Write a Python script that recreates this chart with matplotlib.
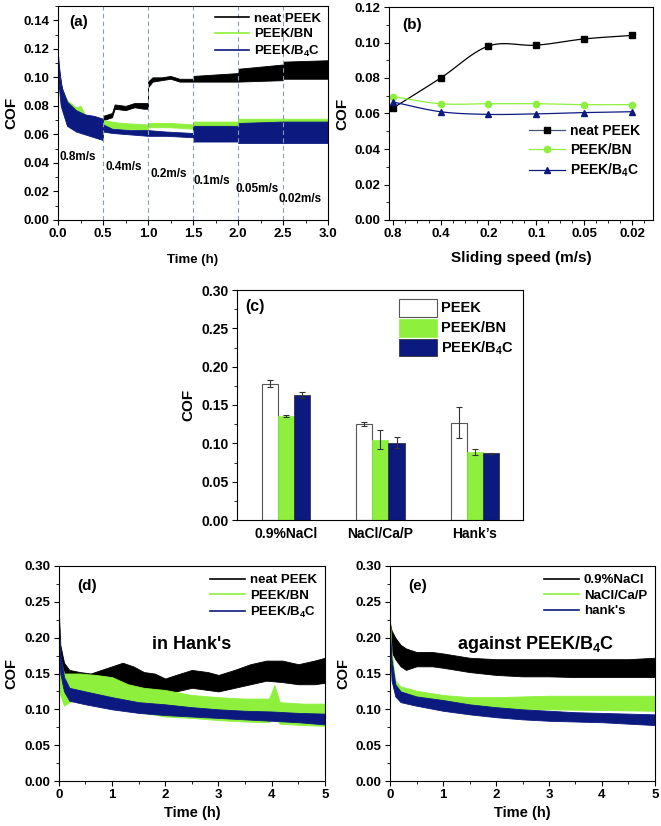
#!/usr/bin/env python3
import numpy as np
import matplotlib
matplotlib.use("Agg")
import matplotlib.pyplot as plt
from matplotlib.ticker import MultipleLocator

plt.rcParams['font.family'] = ['Liberation Sans', 'DejaVu Sans']
plt.rcParams['font.weight'] = 'bold'
plt.rcParams['axes.labelweight'] = 'bold'
plt.rcParams['mathtext.fontset'] = 'custom'
plt.rcParams['mathtext.rm'] = 'Liberation Sans:bold'
plt.rcParams['mathtext.bf'] = 'Liberation Sans:bold'
plt.rcParams['axes.linewidth'] = 0.8

BLACK = '#000000'
GREEN = '#8ef03c'
NAVY = '#0c1a80'
B4C = r'PEEK/B$_\mathbf{4}$C'

# ---- (a) COF vs time at stepped sliding speeds (band = lo/hi of noisy trace)
a_peek_t = [0, 0.05, 0.15, 0.3, 0.5, 0.501, 0.55, 0.6, 0.63, 0.75, 0.85, 0.95, 0.999,
            1.0, 1.05, 1.15, 1.25, 1.35, 1.45, 1.5, 1.501, 2.0, 2.001, 2.5, 2.501, 3.0]
a_peek_lo = [0.100, 0.080, 0.068, 0.063, 0.060, 0.070, 0.071, 0.072, 0.078, 0.077, 0.079, 0.078, 0.078,
             0.093, 0.097, 0.098, 0.099, 0.097, 0.097, 0.097, 0.097, 0.097, 0.097, 0.098, 0.099, 0.099]
a_peek_hi = [0.110, 0.090, 0.078, 0.071, 0.068, 0.073, 0.074, 0.075, 0.081, 0.080, 0.082, 0.082, 0.082,
             0.097, 0.100, 0.100, 0.101, 0.099, 0.099, 0.099, 0.101, 0.103, 0.106, 0.109, 0.111, 0.112]

a_bn_t = [0, 0.03, 0.1, 0.2, 0.25, 0.3, 0.4, 0.5, 0.501, 0.7, 0.999, 1.0, 1.25, 1.499, 1.5, 1.999,
          2.0, 2.5, 3.0]
a_bn_lo = [0.100, 0.085, 0.070, 0.066, 0.065, 0.064, 0.062, 0.060, 0.065, 0.064, 0.063, 0.065, 0.065,
           0.064, 0.063, 0.063, 0.064, 0.064, 0.065]
a_bn_hi = [0.110, 0.094, 0.084, 0.079, 0.080, 0.074, 0.072, 0.071, 0.070, 0.068, 0.067, 0.068, 0.068,
           0.067, 0.069, 0.069, 0.071, 0.071, 0.071]

a_bc_t = [0, 0.03, 0.1, 0.2, 0.3, 0.4, 0.5, 0.501, 0.6, 0.8, 1.0, 1.2, 1.499, 1.5, 1.999, 2.0, 2.5, 3.0]
a_bc_lo = [0.100, 0.080, 0.066, 0.062, 0.060, 0.058, 0.056, 0.062, 0.061, 0.060, 0.059, 0.059, 0.058,
           0.055, 0.055, 0.054, 0.054, 0.054]
a_bc_hi = [0.116, 0.095, 0.083, 0.077, 0.074, 0.073, 0.071, 0.067, 0.064, 0.063, 0.063, 0.062, 0.061,
           0.066, 0.066, 0.068, 0.069, 0.069]

speed_labels = ['0.8m/s', '0.4m/s', '0.2m/s', '0.1m/s', '0.05m/s', '0.02m/s']
speed_x = [0.02, 0.53, 1.03, 1.51, 1.97, 2.45]
speed_y = [0.044, 0.037, 0.032, 0.027, 0.0215, 0.015]

# ---- (b) mean COF vs sliding speed
speeds = ['0.8', '0.4', '0.2', '0.1', '0.05', '0.02']
b_peek = [0.063, 0.080, 0.098, 0.0985, 0.102, 0.104]
b_bn = [0.0695, 0.0655, 0.0655, 0.0655, 0.065, 0.065]
b_bc = [0.0665, 0.061, 0.0595, 0.0598, 0.0605, 0.061]

# ---- (c) bars in different media
media = ['0.9%NaCl', 'NaCl/Ca/P', "Hank\u2019s"]
c_peek = [0.178, 0.125, 0.127]
c_peek_err = [0.005, 0.003, 0.020]
c_bn = [0.136, 0.105, 0.089]
c_bn_err = [0.001, 0.012, 0.004]
c_bc = [0.163, 0.101, 0.087]
c_bc_err = [0.004, 0.007, 0.001]

# ---- (d) in Hank's
d_peek_t = [0, 0.03, 0.1, 0.2, 0.4, 0.6, 0.8, 1.0, 1.2, 1.4, 1.6, 1.8, 2.0, 2.2, 2.5, 2.8, 3.0,
            3.3, 3.6, 3.9, 4.2, 4.5, 4.8, 5.0]
d_peek_lo = [0.19, 0.16, 0.14, 0.138, 0.138, 0.137, 0.135, 0.135, 0.138, 0.13, 0.128, 0.122, 0.12,
             0.125, 0.13, 0.127, 0.125, 0.13, 0.135, 0.14, 0.138, 0.135, 0.135, 0.137]
d_peek_hi = [0.24, 0.19, 0.165, 0.155, 0.152, 0.15, 0.155, 0.16, 0.165, 0.16, 0.152, 0.15, 0.143,
             0.148, 0.155, 0.152, 0.148, 0.155, 0.163, 0.168, 0.168, 0.163, 0.168, 0.172]

d_bn_t = [0, 0.03, 0.1, 0.2, 0.4, 0.7, 1.0, 1.3, 1.6, 2.0, 2.5, 3.0, 3.5, 3.95, 4.05, 4.15, 4.6, 5.0]
d_bn_lo = [0.16, 0.12, 0.105, 0.11, 0.115, 0.11, 0.105, 0.10, 0.095, 0.09, 0.088, 0.085, 0.083,
           0.082, 0.09, 0.08, 0.078, 0.077]
d_bn_hi = [0.21, 0.17, 0.15, 0.15, 0.15, 0.148, 0.145, 0.135, 0.13, 0.127, 0.12, 0.117, 0.115,
           0.115, 0.134, 0.11, 0.108, 0.108]

d_bc_t = [0, 0.03, 0.1, 0.2, 0.5, 1.0, 1.5, 2.0, 2.5, 3.0, 3.5, 4.0, 4.5, 5.0]
d_bc_lo = [0.19, 0.15, 0.125, 0.112, 0.107, 0.10, 0.095, 0.092, 0.09, 0.088, 0.086, 0.084, 0.082, 0.079]
d_bc_hi = [0.22, 0.18, 0.145, 0.13, 0.125, 0.117, 0.11, 0.107, 0.103, 0.1, 0.098, 0.097, 0.095, 0.094]

# ---- (e) against PEEK/B4C
e_nacl_t = [0, 0.03, 0.1, 0.2, 0.3, 0.5, 0.8, 1.0, 1.5, 2.0, 2.5, 3.0, 3.5, 4.0, 4.5, 5.0]
e_nacl_lo = [0.195, 0.18, 0.17, 0.16, 0.155, 0.16, 0.16, 0.158, 0.152, 0.148, 0.146, 0.146, 0.145,
             0.145, 0.145, 0.145]
e_nacl_hi = [0.22, 0.21, 0.2, 0.19, 0.185, 0.18, 0.18, 0.178, 0.172, 0.17, 0.17, 0.17, 0.17,
             0.17, 0.17, 0.172]

e_cap_t = [0, 0.03, 0.1, 0.2, 0.5, 1.0, 1.5, 2.0, 2.5, 3.0, 4.0, 5.0]
e_cap_lo = [0.2, 0.15, 0.125, 0.118, 0.113, 0.108, 0.104, 0.101, 0.1, 0.1, 0.099, 0.098]
e_cap_hi = [0.226, 0.18, 0.14, 0.132, 0.126, 0.12, 0.117, 0.117, 0.118, 0.119, 0.119, 0.119]

e_hk_t = [0, 0.03, 0.1, 0.2, 0.5, 1.0, 1.5, 2.0, 2.5, 3.0, 3.5, 4.0, 4.5, 5.0]
e_hk_lo = [0.19, 0.14, 0.118, 0.11, 0.105, 0.098, 0.093, 0.089, 0.086, 0.084, 0.083, 0.082, 0.08, 0.078]
e_hk_hi = [0.21, 0.17, 0.135, 0.125, 0.118, 0.113, 0.107, 0.103, 0.1, 0.098, 0.096, 0.095, 0.094, 0.093]


def band(ax, t, lo, hi, color, label):
    ax.fill_between(t, lo, hi, color=color, lw=0.6, edgecolor=color)
    ax.plot([], [], color=color, lw=1.2, label=label)


def catmull(x, y, n=25):
    # smooth connecting line through the points (Origin-style spline look)
    x = np.asarray(x, float)
    y = np.asarray(y, float)
    px = np.concatenate([[2 * x[0] - x[1]], x, [2 * x[-1] - x[-2]]])
    py = np.concatenate([[2 * y[0] - y[1]], y, [2 * y[-1] - y[-2]]])
    xs, ys = [], []
    for i in range(1, len(px) - 2):
        s = np.linspace(0, 1, n)
        for p, out in ((px, xs), (py, ys)):
            p0, p1, p2, p3 = p[i - 1], p[i], p[i + 1], p[i + 2]
            out.extend(0.5 * (2 * p1 + (-p0 + p2) * s + (2 * p0 - 5 * p1 + 4 * p2 - p3) * s ** 2
                              + (-p0 + 3 * p1 - 3 * p2 + p3) * s ** 3))
    return xs, ys


def style(ax, size=9.5):
    ax.tick_params(which='both', direction='out', labelsize=size, top=False, right=False)
    ax.tick_params(which='major', length=3.5, width=0.8, pad=2.5)
    ax.tick_params(which='minor', length=2, width=0.6)
    for lab in ax.get_xticklabels() + ax.get_yticklabels():
        lab.set_fontweight('bold')


fig = plt.figure(figsize=(6.61, 8.26), dpi=100)
W, H = 661.0, 826.0


def add_ax(l, r, t, b):
    return fig.add_axes([l / W, 1 - b / H, (r - l) / W, (b - t) / H])


# (a)
ax = add_ax(58, 328, 6, 220)
band(ax, a_peek_t, a_peek_lo, a_peek_hi, BLACK, 'neat PEEK')
band(ax, a_bn_t, a_bn_lo, a_bn_hi, GREEN, 'PEEK/BN')
band(ax, a_bc_t, a_bc_lo, a_bc_hi, NAVY, B4C)
for xv in [0.5, 1.0, 1.5, 2.0, 2.5]:
    ax.axvline(xv, color='#8a9bb0', ls=(0, (4, 3)), lw=0.8)
for s, x, y in zip(speed_labels, speed_x, speed_y):
    ax.text(x, y, s, fontsize=8.5, fontweight='bold', va='center', ha='left')
ax.set_xlim(0, 3)
ax.set_ylim(0, 0.15)
ax.xaxis.set_major_locator(MultipleLocator(0.5))
ax.xaxis.set_minor_locator(MultipleLocator(0.25))
ax.yaxis.set_major_locator(MultipleLocator(0.02))
ax.yaxis.set_minor_locator(MultipleLocator(0.01))
ax.set_xlabel('Time (h)', fontsize=9.5, labelpad=10)
ax.set_ylabel('COF', fontsize=11, labelpad=4)
ax.text(0.04, 0.96, '(a)', transform=ax.transAxes, fontsize=11, fontweight='bold', va='top')
ax.legend(loc='upper right', frameon=False, fontsize=9.5, handlelength=2.6,
          borderaxespad=0.1, labelspacing=0.25, handletextpad=0.4)
style(ax)

# (b)
ax = add_ax(389, 653, 7, 220)
xb = np.arange(len(speeds))
for vals, c, m, lab in [(b_peek, BLACK, 's', 'neat PEEK'), (b_bn, GREEN, 'o', 'PEEK/BN'),
                        (b_bc, NAVY, '^', B4C)]:
    sx, sy = catmull(xb, vals)
    lc = '#445577' if c == BLACK else c
    ax.plot(sx, sy, color=c, lw=0.9)
    ax.plot(xb, vals, ls='none', marker=m, ms=4.5, color=c)
    ax.plot([], [], color=lc, lw=0.9, marker=m, ms=4.5, mfc=c, mec=c, label=lab)
ax.set_xticks(xb)
ax.set_xticklabels(speeds)
ax.xaxis.set_minor_locator(MultipleLocator(0.25))
ax.set_xlim(-0.08, 5.44)
ax.set_ylim(0, 0.12)
ax.yaxis.set_major_locator(MultipleLocator(0.02))
ax.yaxis.set_minor_locator(MultipleLocator(0.01))
ax.set_xlabel('Sliding speed (m/s)', fontsize=11, labelpad=8)
ax.set_ylabel('COF', fontsize=11, labelpad=4)
ax.text(0.05, 0.95, '(b)', transform=ax.transAxes, fontsize=11, fontweight='bold', va='top')
ax.legend(loc='center right', bbox_to_anchor=(1.0, 0.32), frameon=False, fontsize=10,
          handlelength=2.6, labelspacing=0.35, handletextpad=0.4)
style(ax)

# (c)
ax = add_ax(237, 523, 290, 520)
xc = np.arange(1, len(media) + 1)
bw = 0.17
ek = dict(ecolor='#333333', elinewidth=0.8, capsize=2, capthick=0.8)
ax.bar(xc - bw, c_peek, bw, yerr=c_peek_err, color='white', edgecolor='#555555', lw=0.8,
       label='PEEK', error_kw=ek)
ax.bar(xc, c_bn, bw, yerr=c_bn_err, color=GREEN, edgecolor=GREEN, lw=0.5, label='PEEK/BN',
       error_kw=ek)
ax.bar(xc + bw, c_bc, bw, yerr=c_bc_err, color=NAVY, edgecolor='#222222', lw=0.5, label=B4C,
       error_kw=ek)
ax.set_xticks(xc)
ax.set_xticklabels(media)
ax.set_xlim(0.48, 3.51)
ax.set_ylim(0, 0.30)
ax.yaxis.set_major_locator(MultipleLocator(0.05))
ax.yaxis.set_minor_locator(MultipleLocator(0.025))
ax.set_ylabel('COF', fontsize=11, labelpad=4)
ax.text(0.03, 0.96, '(c)', transform=ax.transAxes, fontsize=11.5, fontweight='bold', va='top')
ax.legend(loc='upper right', frameon=False, fontsize=10.5, handlelength=2.6, handleheight=1.5,
          labelspacing=0.15, handletextpad=0.3, borderaxespad=0.2)
style(ax, 10)
ax.tick_params(axis='x', length=0, pad=5)

# (d) and (e)
for key, (l, r) in [('d', (58.7, 325)), ('e', (390, 655))]:
    ax = add_ax(l, r, 566, 781)
    if key == 'd':
        band(ax, d_peek_t, d_peek_lo, d_peek_hi, BLACK, 'neat PEEK')
        band(ax, d_bn_t, d_bn_lo, d_bn_hi, GREEN, 'PEEK/BN')
        band(ax, d_bc_t, d_bc_lo, d_bc_hi, NAVY, B4C)
        note = "in Hank's"
    else:
        band(ax, e_nacl_t, e_nacl_lo, e_nacl_hi, BLACK, '0.9%NaCl')
        band(ax, e_cap_t, e_cap_lo, e_cap_hi, GREEN, 'NaCl/Ca/P')
        band(ax, e_hk_t, e_hk_lo, e_hk_hi, NAVY, "hank's")
        note = r'against PEEK/B$_\mathbf{4}$C'
    ax.set_xlim(0, 5)
    ax.set_ylim(0, 0.30)
    ax.xaxis.set_major_locator(MultipleLocator(1))
    ax.xaxis.set_minor_locator(MultipleLocator(0.5))
    ax.yaxis.set_major_locator(MultipleLocator(0.05))
    ax.yaxis.set_minor_locator(MultipleLocator(0.025))
    ax.set_xlabel('Time (h)', fontsize=10.5, labelpad=3)
    ax.set_ylabel('COF', fontsize=10.5, labelpad=4)
    ax.text(0.07, 0.94, '(%s)' % key, transform=ax.transAxes, fontsize=11, fontweight='bold',
            va='top')
    ax.text(0.5 if key == 'd' else 0.55, 0.635, note, transform=ax.transAxes, fontsize=13,
            fontweight='bold', ha='center', va='center')
    ax.legend(loc='upper right', frameon=False, fontsize=9.5, handlelength=2.6,
              borderaxespad=0.2, labelspacing=0.25, handletextpad=0.4)
    style(ax)

fig.savefig('out.png', dpi=100)
print('saved out.png')
